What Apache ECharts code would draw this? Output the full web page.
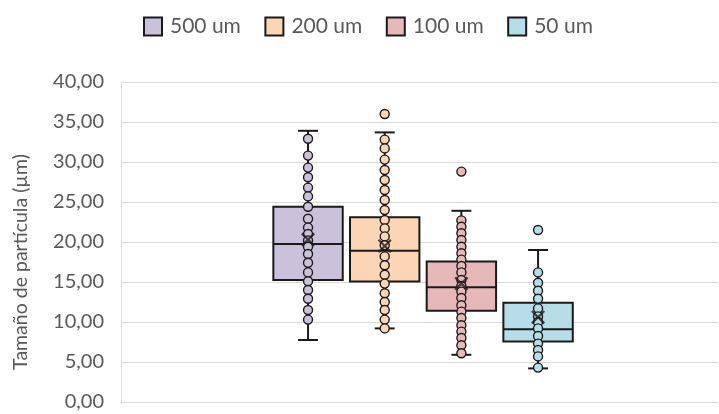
<!DOCTYPE html>
<html>
<head>
<meta charset="utf-8">
<script src="https://cdn.jsdelivr.net/npm/echarts@6/dist/echarts.min.js"></script>
<style>
  html, body { margin: 0; padding: 0; background: #ffffff; }
  #chart { width: 719px; height: 414px; }
</style>
</head>
<body>
<div id="chart"></div>
<script>
// Sample groups (sieve sizes)
const categories = ['500 um', '200 um', '100 um', '50 um'];

// Five-number summaries per group: lower whisker, Q1, median, Q3, upper whisker
const whiskerLow  = [7.75, 9.2, 5.9, 4.2];
const quartile1   = [15.25, 15.05, 11.4, 7.55];
const medians     = [19.75, 18.9, 14.35, 9.1];
const quartile3   = [24.4, 23.1, 17.55, 12.4];
const whiskerHigh = [33.9, 33.7, 23.9, 19.0];

// Group means
const means = [20.3, 19.5, 14.8, 10.6];

// Individual measurements inside the whiskers
const points500 = [32.9, 30.8, 29.3, 28.1, 26.8, 25.7, 24.4, 22.9, 21.8, 21.0, 20.2, 19.4, 18.5, 17.4, 16.2, 15.1, 14.0, 12.9, 11.5, 10.3];
const points200 = [32.8, 31.7, 30.3, 29.0, 27.75, 26.5, 25.25, 24.0, 22.75, 21.7, 20.7, 19.6, 18.2, 17.1, 15.9, 14.8, 13.6, 12.5, 11.5, 10.3, 9.2];
const points100 = [22.7, 21.9, 21.1, 20.25, 19.4, 18.6, 17.8, 17.0, 16.2, 15.25, 14.5, 13.8, 13.0, 12.1, 11.3, 10.5, 9.6, 8.8, 8.0, 7.1, 6.1];
const points50  = [16.2, 14.9, 13.9, 12.9, 11.7, 10.7, 10.0, 9.2, 8.25, 7.3, 6.5, 5.7, 4.3];

// Outliers beyond the whiskers
const outliers500 = [];
const outliers200 = [36.0];
const outliers100 = [28.8];
const outliers50  = [21.5];

// Y axis range
const yMin = 0, yMax = 40, yStep = 5;

const fills = ['#ccc1da', '#fcd5b5', '#e6b9b8', '#b7dee8'];
const strokeColor = '#1a1a1a';
const textColor = '#595959';
const fontFamily = 'Lato, "Open Sans", sans-serif';

const pointsByGroup = [points500, points200, points100, points50];
const outliersByGroup = [outliers500, outliers200, outliers100, outliers50];

function renderBox(params, api) {
  const x = api.value(0);
  const lo = api.coord([x, api.value(1)]);
  const b1 = api.coord([x, api.value(2)]);
  const md = api.coord([x, api.value(3)]);
  const b3 = api.coord([x, api.value(4)]);
  const hi = api.coord([x, api.value(5)]);
  const band = api.size([1, 0])[0];
  const boxW = band * 0.905;
  const capW = band * 0.26;
  const cx = lo[0];
  const fill = fills[params.seriesIndex];
  const lineStyle = { stroke: strokeColor, lineWidth: 2 };
  return {
    type: 'group',
    children: [
      { type: 'line', shape: { x1: cx, y1: hi[1], x2: cx, y2: b3[1] }, style: lineStyle },
      { type: 'line', shape: { x1: cx, y1: b1[1], x2: cx, y2: lo[1] }, style: lineStyle },
      { type: 'line', shape: { x1: cx - capW / 2, y1: hi[1], x2: cx + capW / 2, y2: hi[1] }, style: lineStyle },
      { type: 'line', shape: { x1: cx - capW / 2, y1: lo[1], x2: cx + capW / 2, y2: lo[1] }, style: lineStyle },
      { type: 'rect', shape: { x: cx - boxW / 2, y: b3[1], width: boxW, height: b1[1] - b3[1] },
        style: { fill: fill, stroke: strokeColor, lineWidth: 2 } },
      { type: 'line', shape: { x1: cx - boxW / 2, y1: md[1], x2: cx + boxW / 2, y2: md[1] }, style: lineStyle }
    ]
  };
}

const series = [];

// Box and whisker bodies, one series per group
categories.forEach(function (name, i) {
  series.push({
    name: name,
    type: 'custom',
    xAxisIndex: 1,
    yAxisIndex: 1,
    renderItem: renderBox,
    itemStyle: { color: fills[i], borderColor: strokeColor, borderWidth: 2 },
    encode: { x: 0, y: [1, 2, 3, 4, 5] },
    data: [[i, whiskerLow[i], quartile1[i], medians[i], quartile3[i], whiskerHigh[i]]],
    z: 2,
    silent: true
  });
});

// Individual points and outliers
categories.forEach(function (name, i) {
  const pts = pointsByGroup[i].concat(outliersByGroup[i]).map(function (v) { return [i, v]; });
  series.push({
    name: name,
    type: 'scatter',
    xAxisIndex: 1,
    yAxisIndex: 1,
    symbol: 'circle',
    symbolSize: 9,
    itemStyle: { color: fills[i], borderColor: strokeColor, borderWidth: 1.4, opacity: 1 },
    data: pts,
    z: 3,
    silent: true
  });
});

// Mean markers
series.push({
  name: 'mean',
  type: 'scatter',
  xAxisIndex: 1,
  yAxisIndex: 1,
  symbol: 'path://M0,1.6 L1.6,0 L7,5.4 L12.4,0 L14,1.6 L8.6,7 L14,12.4 L12.4,14 L7,8.6 L1.6,14 L0,12.4 L5.4,7 Z',
  symbolSize: 14,
  itemStyle: { color: strokeColor },
  data: means.map(function (v, i) { return [i, v]; }),
  z: 4,
  silent: true
});

const chart = echarts.init(document.getElementById('chart'), null, { renderer: 'canvas' });
chart.setOption({
  animation: false,
  backgroundColor: '#ffffff',
  textStyle: { fontFamily: fontFamily },
  legend: {
    top: 11,
    left: 138,
    itemWidth: 18,
    itemHeight: 18,
    itemGap: 23.5,
    icon: 'rect',
    selectedMode: false,
    textStyle: { color: textColor, fontSize: 21, fontFamily: fontFamily, padding: [0, 0, 0, 3] },
    data: categories.map(function (name, i) {
      return { name: name, itemStyle: { color: fills[i], borderColor: strokeColor, borderWidth: 2 } };
    })
  },
  grid: [
    { left: 121, right: 1, top: 82, bottom: 12 },
    { left: 269.7, width: 306.7, top: 82, bottom: 12 }
  ],
  xAxis: [
    { type: 'category', gridIndex: 0, data: [''], show: false },
    { type: 'category', gridIndex: 1, data: categories, show: false }
  ],
  yAxis: [
    {
      type: 'value', gridIndex: 0, min: yMin, max: yMax, interval: yStep,
      name: 'Tamaño de partícula (µm)',
      nameLocation: 'middle',
      nameGap: 90,
      nameTextStyle: { color: textColor, fontSize: 19.5, fontFamily: fontFamily, padding: [0, 40, 0, 0] },
      axisLine: { show: true, lineStyle: { color: '#d9d9d9', width: 1 } },
      axisTick: { show: false },
      axisLabel: {
        color: textColor, fontSize: 20, fontFamily: fontFamily, margin: 17,
        formatter: function (v) { return v.toFixed(2).replace('.', ','); }
      },
      splitLine: { show: true, lineStyle: { color: '#d9d9d9', width: 1 } }
    },
    { type: 'value', gridIndex: 1, min: yMin, max: yMax, interval: yStep, show: false, splitLine: { show: false } }
  ],
  series: series
});
</script>
</body>
</html>
